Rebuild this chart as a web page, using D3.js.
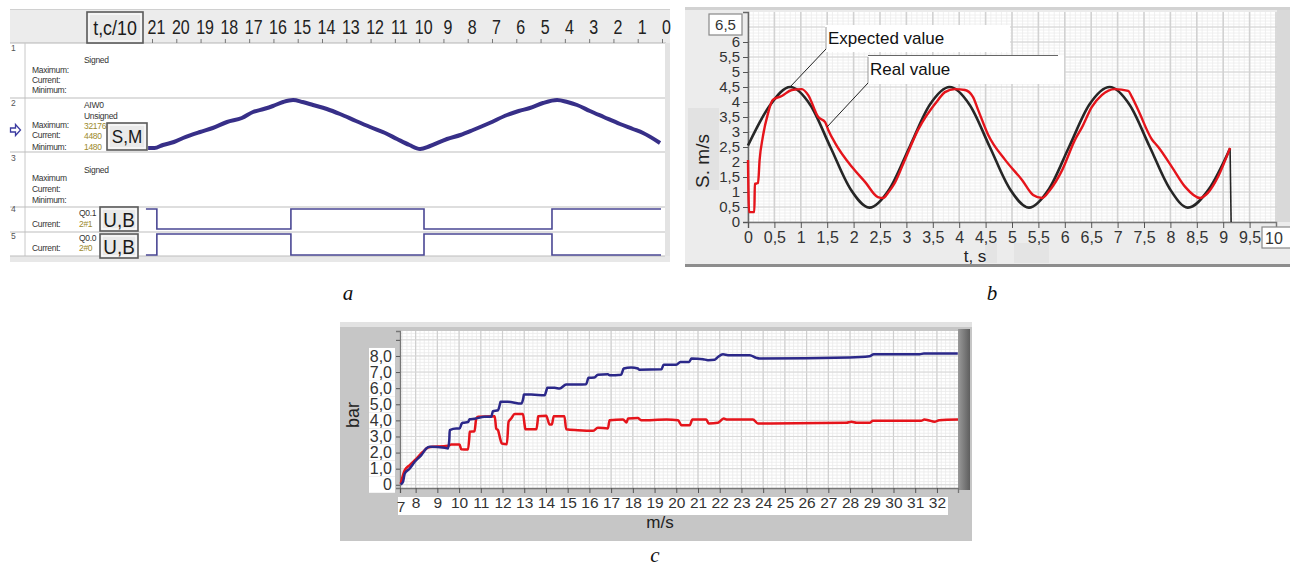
<!DOCTYPE html>
<html><head><meta charset="utf-8">
<script src="https://cdn.jsdelivr.net/npm/d3@7"></script>
<style>body{margin:0;background:#fff;} svg{display:block;}</style>
</head><body>
<svg id="c" width="1290" height="567"></svg>
<script>
// ================= DATA =================
// Panel a (time axis t, c/10, reversed)
const aTimeTicks = [21,20,19,18,17,16,15,14,13,12,11,10,9,8,7,6,5,4,3,2,1,0];
const aiwTime  = [21.16,20.9,20.55,20.1,19.72,19.02,18.5,17.91,17.3,16.84,16.4,16.02,15.6,15.19,14.8,14.37,13.8,13.26,12.6,12.02,11.4,10.91,10.4,9.96,9.55,8.85,8.3,7.78,7.1,6.38,5.9,5.44,4.9,4.32,3.9,3.5,2.97,2.4,1.73,1.2,0.78,0.08];
const aiwValue = [2106,2106,3986,5865,8370,12129,14634,18393,20898,24657,26536,28415,30921,32176,30921,29042,26536,23405,18999,15261,11502,7744,3986,1480,3359,7744,10250,13382,17766,22778,25283,27163,30295,32176,30921,29042,25283,21525,17140,14008,11502,5238];
const aiwMin = 1480, aiwMax = 32176;
const qEdges = [21.25,20.8,15.28,9.8,4.53,0.04];
const q01Levels = [1,0,1,0,1];
const q00Levels = [0,1,0,1,0];

// Panel b
const bXTicks = [0,0.5,1,1.5,2,2.5,3,3.5,4,4.5,5,5.5,6,6.5,7,7.5,8,8.5,9,9.5];
const bYTicks = [0,0.5,1,1.5,2,2.5,3,3.5,4,4.5,5,5.5,6];
const bExpT = [0,0.42,0.80,1.18,1.56,1.94,2.30,2.68,3.06,3.44,3.82,4.20,4.58,4.96,5.32,5.70,6.08,6.46,6.85,7.23,7.61,7.99,8.33,8.73,9.13,9.15];
const bExpV = [2.55,3.9,4.5,3.9,2.5,1.1,0.48,1.1,2.5,3.9,4.5,3.9,2.5,1.1,0.48,1.1,2.5,3.9,4.5,3.9,2.5,1.1,0.48,1.1,2.45,0];
const bRealT = [0,0.02,0.12,0.13,0.19,0.22,0.28,0.38,0.47,0.64,0.83,1.02,1.14,1.33,1.46,1.52,1.65,1.97,2.22,2.46,2.56,2.65,2.78,2.97,3.22,3.6,3.73,3.92,4.11,4.26,4.36,4.55,4.87,5.19,5.40,5.57,5.72,5.95,6.19,6.33,6.51,6.70,6.95,7.2,7.27,7.39,7.65,7.77,8.03,8.28,8.56,8.71,8.90,9.13];
const bRealV = [2.07,0.33,0.33,1.27,1.3,2.07,2.83,3.63,4.07,4.2,4.4,4.43,4.23,3.5,3.33,3.07,2.63,1.83,1.33,0.83,0.8,0.97,1.3,2.07,3.07,4.07,4.33,4.43,4.4,4.17,3.73,2.9,2.07,1.4,0.9,0.8,1.07,1.73,2.73,3.17,3.83,4.23,4.43,4.37,4.17,3.73,2.75,2.5,1.83,1.17,0.8,0.97,1.5,2.47];

// Panel c
const cXTicks = [8,9,10,11,12,13,14,15,16,17,18,19,20,21,22,23,24,25,26,27,28,29,30,31,32];
const cYTicks = [0,1,2,3,4,5,6,7,8];
const cBlueX = [7.31,7.42,7.50,7.73,7.96,8.26,8.49,8.65,9.34,9.49,9.55,9.57,9.87,10.02,10.12,10.18,10.41,10.49,10.71,11.18,11.48,11.56,11.79,11.88,11.91,12.25,12.86,12.96,12.98,13.32,13.94,14.03,14.06,14.40,14.63,14.93,15.85,15.96,16.23,16.39,16.85,16.93,17.46,17.58,17.92,18.23,18.3,19.32,19.42,20.0,20.19,20.59,20.70,21.23,21.46,21.77,21.92,22.15,22.38,23.38,23.69,23.84,27.98,28.9,29.09,31.2,31.4,32.96];
const cBlueY = [0.02,0.19,0.70,1.01,1.43,1.84,2.25,2.36,2.30,2.25,2.8,3.39,3.49,3.49,3.8,3.85,3.9,4.07,4.1,4.22,4.22,4.57,4.63,5.0,5.15,5.15,5.04,5.4,5.6,5.6,5.56,5.9,6.02,6.02,5.98,6.22,6.25,6.64,6.66,6.84,6.86,6.8,6.84,7.22,7.28,7.22,7.15,7.18,7.46,7.46,7.63,7.63,7.84,7.8,7.74,7.77,7.94,8.1,8.05,8.05,7.88,7.84,7.9,7.98,8.11,8.11,8.15,8.15];
const cRedX = [7.31,7.50,7.73,8.04,8.34,8.57,9.49,9.64,10.02,10.10,10.41,10.47,10.49,10.71,10.79,10.87,11.64,11.71,11.79,11.91,11.97,12.2,12.28,12.40,12.56,12.94,13.02,13.05,13.56,13.62,13.64,14.01,14.17,14.27,14.36,14.85,14.93,15.47,16.16,16.39,16.85,16.93,17.55,17.71,17.78,18.23,18.38,19.55,20.08,20.24,20.62,20.74,21.38,21.49,21.92,22.18,22.35,23.53,23.76,27.83,28.06,28.3,28.9,29.05,31.27,31.42,31.6,31.89,32.1,32.97];
const cRedY = [0.06,0.91,1.22,1.63,2.05,2.32,2.42,2.5,2.5,2.21,2.19,2.9,3.29,3.32,4.11,4.22,4.26,3.49,3.39,2.77,2.56,2.52,3.91,4.11,4.39,4.39,3.7,3.45,3.45,4.0,4.26,4.28,3.74,3.74,4.26,4.26,3.45,3.39,3.35,3.54,3.5,4.01,4.05,3.87,4.11,4.14,4.01,4.05,4.01,3.7,3.7,4.05,4.05,3.8,3.85,4.11,4.05,4.05,3.8,3.85,3.91,3.85,3.85,3.97,3.97,4.05,4.01,3.91,4.01,4.05];

// ================= DRAW =================
const svg = d3.select("#c");
const SANS = "'Liberation Sans', Arial, sans-serif";
const SERIF = "'Liberation Serif', 'Times New Roman', serif";
const comma = d => String(d).replace('.', ',');
const zip = (a,b) => a.map((v,i)=>[v,b[i]]);

function boxLabel(g, x, y, w, h, txt, fs, sx){
  g.append("rect").attr("x",x).attr("y",y).attr("width",w).attr("height",h)
    .attr("fill","#e9e9e9").attr("stroke","#5a5a5a").attr("stroke-width",1.6);
  g.append("rect").attr("x",x+2).attr("y",y+2).attr("width",w-4).attr("height",h-4)
    .attr("fill","none").attr("stroke","#fff").attr("stroke-width",1);
  g.append("text").attr("transform",`translate(${x+w/2},${y+h/2}) scale(${sx},1)`).attr("dy","0.36em")
    .attr("text-anchor","middle").attr("font-family",SANS).attr("font-size",fs)
    .attr("fill","#1a1a1a").text(txt);
}

// ---------- Panel a ----------
(function(){
  const g = svg.append("g");
  const x = d3.scaleLinear().domain([21,0]).range([152,662]);
  const y = d3.scaleLinear().domain([aiwMin,aiwMax]).range([149,100]);
  g.append("rect").attr("x",10).attr("y",9).attr("width",660).attr("height",253).attr("fill","#fff");
  g.append("rect").attr("x",10).attr("y",10).attr("width",660).attr("height",33).attr("fill","#ececec");
  g.append("line").attr("x1",10).attr("x2",670).attr("y1",9.5).attr("y2",9.5).attr("stroke","#d0d0d0");
  g.append("line").attr("x1",10).attr("x2",666).attr("y1",43).attr("y2",43).attr("stroke","#b5b5b5");
  g.append("rect").attr("x",665).attr("y",43).attr("width",5).attr("height",219).attr("fill","#e3e3e3");
  g.append("rect").attr("x",10).attr("y",256).attr("width",660).attr("height",6).attr("fill","#e8e8e8");
  g.append("line").attr("x1",25).attr("x2",25).attr("y1",43).attr("y2",256).attr("stroke","#c8c8c8");
  [98,152,207,232,256].forEach(yy=>{
    g.append("line").attr("x1",10).attr("x2",665).attr("y1",yy).attr("y2",yy).attr("stroke","#bdbdbd");
  });
  // axis
  const ax = g.append("g").attr("transform","translate(0,43)")
    .call(d3.axisTop(x).tickValues(aTimeTicks).tickSize(4).tickPadding(5).tickFormat(d=>d));
  ax.select(".domain").remove();
  ax.selectAll("line").attr("stroke","#777");
  ax.selectAll("text").attr("font-family",SANS).attr("font-size",20).attr("fill","#222")
    .attr("transform","translate(4,0) scale(0.8,1)");
  boxLabel(g,87,12,56,31,"t,c/10",21,0.85);

  // small texts
  const small = (tx,ty,t,col)=>g.append("text").attr("x",tx).attr("y",ty).attr("font-family",SANS)
      .attr("font-size",8.5).attr("fill",col||"#333").attr("letter-spacing",-0.3).text(t);
  const olive = "#9c8a2c";
  [["1",51],["2",106],["3",161],["4",212],["5",239]].forEach(d=>small(11,d[1],d[0],"#555"));
  small(84,63,"Signed"); small(32,73,"Maximum:"); small(32,83,"Current:"); small(32,93,"Minimum:");
  small(84,108,"AIW0"); small(84,119,"Unsigned");
  small(32,128,"Maximum:"); small(84,129,"32176",olive);
  small(32,138,"Current:"); small(84,139,"4480",olive);
  small(32,150,"Minimum:"); small(84,150,"1480",olive);
  small(84,173,"Signed"); small(32,181,"Maximum"); small(32,192,"Current:"); small(32,203,"Minimum:");
  small(79,216,"Q0.1"); small(79,227,"2#1",olive); small(32,227,"Current:");
  small(79,241,"Q0.0"); small(79,251,"2#0",olive); small(32,251,"Current:");
  // arrow icon
  g.append("path").attr("d","M10.5,128 h5 v-3.5 l5,5.5 l-5,5.5 v-3.5 h-5 z")
    .attr("fill","#fff").attr("stroke","#3b3ba0").attr("stroke-width",1.3);
  boxLabel(g,107,123,40,27,"S,M",19,0.9);
  boxLabel(g,100,207,38,24,"U,B",21,0.9);
  boxLabel(g,100,234,38,24,"U,B",21,0.9);

  // analog curve
  g.append("path").datum(zip(aiwTime,aiwValue))
    .attr("d",d3.line().x(d=>x(d[0])).y(d=>y(d[1])).curve(d3.curveMonotoneX))
    .attr("fill","none").attr("stroke","#372f88").attr("stroke-width",4).attr("stroke-linejoin","round");
  // digital signals
  function steps(levels, yHi, yLo){
    const pts = levels.map((l,i)=>[qEdges[i],l]);
    pts.push([qEdges[qEdges.length-1], levels[levels.length-1]]);
    g.append("path").datum(pts)
      .attr("d",d3.line().x(d=>x(d[0])).y(d=>d[1]?yHi:yLo).curve(d3.curveStepAfter))
      .attr("fill","none").attr("stroke","#4a4794").attr("stroke-width",1.6);
  }
  steps(q01Levels,209,229);
  steps(q00Levels,234,255);
})();

// ---------- Panel b ----------
(function(){
  const g = svg.append("g");
  const x = d3.scaleLinear().domain([0,10]).range([748,1276]);
  const y = d3.scaleLinear().domain([0,7]).range([222,12]);
  g.append("rect").attr("x",685).attr("y",8).attr("width",605).attr("height",259).attr("fill","#ececec");
  g.append("rect").attr("x",685).attr("y",7).attr("width",605).attr("height",3).attr("fill","#d2d2d2");
  g.append("rect").attr("x",685).attr("y",264).attr("width",605).attr("height",3).attr("fill","#8d8d8d");
  g.append("rect").attr("x",688).attr("y",108).attr("width",31).attr("height",82).attr("fill","#e2e2e2");
  g.append("rect").attr("x",985).attr("y",243).attr("width",12).attr("height",20).attr("fill","#e4e4e4");
  g.append("rect").attr("x",1014).attr("y",243).attr("width",35).attr("height",20).attr("fill","#e4e4e4");
  g.append("rect").attr("x",748).attr("y",12).attr("width",529).attr("height",210).attr("fill","#fff");
  g.append("rect").attr("x",1277).attr("y",10).attr("width",13).attr("height",212).attr("fill","#d9d9d9");
  // grid
  const minorX = d3.range(1,100).map(i=>i/10), minorY = d3.range(1,70).map(i=>i/10);
  g.append("g").selectAll("line").data(minorX).join("line")
    .attr("x1",d=>x(d)).attr("x2",d=>x(d)).attr("y1",12).attr("y2",222).attr("stroke","#ececec").attr("stroke-width",0.8);
  g.append("g").selectAll("line").data(minorY).join("line")
    .attr("y1",d=>y(d)).attr("y2",d=>y(d)).attr("x1",748).attr("x2",1277).attr("stroke","#ececec").attr("stroke-width",0.8);
  g.append("g").selectAll("line").data(bXTicks.concat([10])).join("line")
    .attr("x1",d=>x(d)).attr("x2",d=>x(d)).attr("y1",12).attr("y2",222).attr("stroke","#d2d2d2").attr("stroke-width",1.6);
  g.append("g").selectAll("line").data(bYTicks.concat([6.5])).join("line")
    .attr("y1",d=>y(d)).attr("y2",d=>y(d)).attr("x1",748).attr("x2",1277).attr("stroke","#d2d2d2").attr("stroke-width",1.2);
  // axes
  const ay = g.append("g").attr("transform","translate(748,0)")
    .call(d3.axisLeft(y).tickValues(bYTicks).tickSize(5).tickPadding(3).tickFormat(comma));
  ay.select(".domain").attr("stroke","#666").attr("stroke-width",1.5);
  ay.selectAll("line").attr("stroke","#555");
  ay.selectAll("text").attr("font-family",SANS).attr("font-size",15).attr("fill","#333");
  const axb = g.append("g").attr("transform","translate(0,222)")
    .call(d3.axisBottom(x).tickValues(bXTicks).tickSize(6).tickPadding(4).tickFormat(comma));
  axb.select(".domain").attr("stroke","#777").attr("stroke-width",1.5);
  axb.selectAll("line").attr("stroke","#555");
  axb.selectAll("text").attr("font-family",SANS).attr("font-size",16).attr("fill","#333");
  // boxes 6,5 and 10
  g.append("rect").attr("x",709).attr("y",14).attr("width",33).attr("height",21).attr("fill","#fff").attr("stroke","#888").attr("stroke-width",1.2);
  g.append("text").attr("x",725.5).attr("y",30).attr("text-anchor","middle").attr("font-family",SANS).attr("font-size",15).attr("fill","#333").text(comma(6.5));
  g.append("rect").attr("x",1262).attr("y",227).attr("width",30).attr("height",21).attr("fill","#fff").attr("stroke","#888").attr("stroke-width",1.2);
  g.append("text").attr("x",1265).attr("y",244).attr("font-family",SANS).attr("font-size",16).attr("fill","#333").text("10");
  // titles
  g.append("text").attr("transform","translate(709,161) rotate(-90)").attr("text-anchor","middle")
    .attr("font-family",SANS).attr("font-size",19).attr("fill","#222").text("S. m/s");
  g.append("text").attr("x",975).attr("y",262).attr("text-anchor","middle")
    .attr("font-family",SANS).attr("font-size",17).attr("fill","#222").text("t, s");
  // curves
  const lineM = d3.line().x(d=>x(d[0])).y(d=>y(d[1])).curve(d3.curveMonotoneX);
  const exp = zip(bExpT,bExpV);
  g.append("path").datum(exp.slice(0,exp.length-1)).attr("d",lineM)
    .attr("fill","none").attr("stroke","#262626").attr("stroke-width",2.6);
  g.append("path").datum(exp.slice(exp.length-2)).attr("d",d3.line().x(d=>x(d[0])).y(d=>y(d[1])))
    .attr("fill","none").attr("stroke","#262626").attr("stroke-width",1.6);
  g.append("path").datum(zip(bRealT,bRealV)).attr("d",lineM)
    .attr("fill","none").attr("stroke","#e5141b").attr("stroke-width",2.4).attr("stroke-linejoin","round");
  // annotations
  g.append("rect").attr("x",825).attr("y",25).attr("width",185).attr("height",27).attr("fill","#fff");
  g.append("rect").attr("x",868).attr("y",55).attr("width",196).attr("height",29).attr("fill","#fff");
  g.append("line").attr("x1",868).attr("x2",1058).attr("y1",55.5).attr("y2",55.5).attr("stroke","#666").attr("stroke-width",1);
  g.append("line").attr("x1",826).attr("y1",49).attr("x2",790).attr("y2",87).attr("stroke","#222").attr("stroke-width",1);
  g.append("line").attr("x1",826).attr("y1",27).attr("x2",826).attr("y2",49).attr("stroke","#999").attr("stroke-width",1);
  g.append("line").attr("x1",868).attr("y1",83).attr("x2",827).attr("y2",127).attr("stroke","#222").attr("stroke-width",1);
  g.append("line").attr("x1",868).attr("y1",57).attr("x2",868).attr("y2",83).attr("stroke","#999").attr("stroke-width",1);
  g.append("text").attr("x",828).attr("y",44).attr("font-family",SANS).attr("font-size",17).attr("fill","#111").text("Expected value");
  g.append("text").attr("x",870).attr("y",75).attr("font-family",SANS).attr("font-size",17).attr("fill","#111").text("Real value");
})();

// ---------- Panel c ----------
(function(){
  const g = svg.append("g");
  const x = d3.scaleLinear().domain([7.28,32.97]).range([400,958]);
  const y = d3.scaleLinear().domain([-0.2,9.55]).range([488,331]);
  g.append("rect").attr("x",340).attr("y",324).attr("width",632).attr("height",217).attr("fill","#c6c6c6");
  g.append("rect").attr("x",340).attr("y",322).attr("width",632).attr("height",5).attr("fill","#e2e2e2");
  g.append("rect").attr("x",400).attr("y",331).attr("width",558).attr("height",157).attr("fill","#fff");
  const grad = svg.append("defs").append("linearGradient").attr("id","sb");
  grad.append("stop").attr("offset","0").attr("stop-color","#9a9a9a");
  grad.append("stop").attr("offset","1").attr("stop-color","#5e5e5e");
  g.append("rect").attr("x",958).attr("y",329).attr("width",12).attr("height",161).attr("fill","url(#sb)");
  // grid
  const mx = d3.range(37,165).map(i=>i/5).filter(v=>v>7.3 && v<32.95);
  const my = d3.range(0,48).map(i=>i/5);
  g.append("g").selectAll("line").data(mx).join("line")
    .attr("x1",d=>x(d)).attr("x2",d=>x(d)).attr("y1",331).attr("y2",488).attr("stroke","#eaeaea").attr("stroke-width",0.8);
  g.append("g").selectAll("line").data(my).join("line")
    .attr("y1",d=>y(d)).attr("y2",d=>y(d)).attr("x1",400).attr("x2",958).attr("stroke","#eaeaea").attr("stroke-width",0.8);
  g.append("g").selectAll("line").data(cXTicks).join("line")
    .attr("x1",d=>x(d)).attr("x2",d=>x(d)).attr("y1",331).attr("y2",488).attr("stroke","#cfcfcf").attr("stroke-width",1.2);
  g.append("g").selectAll("line").data(cYTicks.concat([9])).join("line")
    .attr("y1",d=>y(d)).attr("y2",d=>y(d)).attr("x1",400).attr("x2",958).attr("stroke","#d8d8d8").attr("stroke-width",1);
  // y label white boxes
  g.append("g").selectAll("rect").data(cYTicks).join("rect")
    .attr("x",369).attr("y",d=>y(d)-8).attr("width",26).attr("height",16).attr("fill","#fff");
  g.append("rect").attr("x",398).attr("y",497).attr("width",550).attr("height",18).attr("fill","#fff");
  // axes
  const ay = g.append("g").attr("transform","translate(400,0)")
    .call(d3.axisLeft(y).tickValues(cYTicks.concat([9])).tickSize(4).tickPadding(4)
      .tickFormat(d=> d===9 ? "" : (d===0 ? "0" : d.toFixed(1).replace('.',','))));
  ay.select(".domain").attr("stroke","#777").attr("stroke-width",1.3);
  ay.selectAll("line").attr("stroke","#555");
  ay.selectAll("text").attr("font-family",SANS).attr("font-size",16).attr("fill","#333");
  const axc = g.append("g").attr("transform","translate(0,488)")
    .call(d3.axisBottom(x).tickValues([7.28].concat(cXTicks)).tickSize(5).tickPadding(4)
      .tickFormat(d=> d===7.28 ? "" : d));
  axc.select(".domain").attr("stroke","#777").attr("stroke-width",1.3);
  axc.selectAll("line").attr("stroke","#555");
  axc.selectAll("text").attr("font-family",SANS).attr("font-size",15.5).attr("fill","#333");
  g.append("text").attr("x",401).attr("y",512).attr("text-anchor","middle")
    .attr("font-family",SANS).attr("font-size",15.5).attr("fill","#333").text("7");
  // titles
  g.append("text").attr("transform","translate(359,415) rotate(-90)").attr("text-anchor","middle")
    .attr("font-family",SANS).attr("font-size",18).attr("fill","#222").text("bar");
  g.append("text").attr("x",660).attr("y",528).attr("text-anchor","middle")
    .attr("font-family",SANS).attr("font-size",17).attr("fill","#222").text("m/s");
  const lineM = d3.line().x(d=>x(d[0])).y(d=>y(d[1])).curve(d3.curveMonotoneX);
  g.append("path").datum(zip(cRedX,cRedY)).attr("d",lineM)
    .attr("fill","none").attr("stroke","#e5141b").attr("stroke-width",2.5);
  g.append("path").datum(zip(cBlueX,cBlueY)).attr("d",lineM)
    .attr("fill","none").attr("stroke","#2b2889").attr("stroke-width",2.5);
})();

// ---------- captions ----------
[["a",348,300],["b",992,300],["c",655,562]].forEach(d=>{
  svg.append("text").attr("x",d[1]).attr("y",d[2]).attr("text-anchor","middle")
    .attr("font-family",SERIF).attr("font-style","italic").attr("font-size",21).attr("fill","#111").text(d[0]);
});
</script>
</body></html>
